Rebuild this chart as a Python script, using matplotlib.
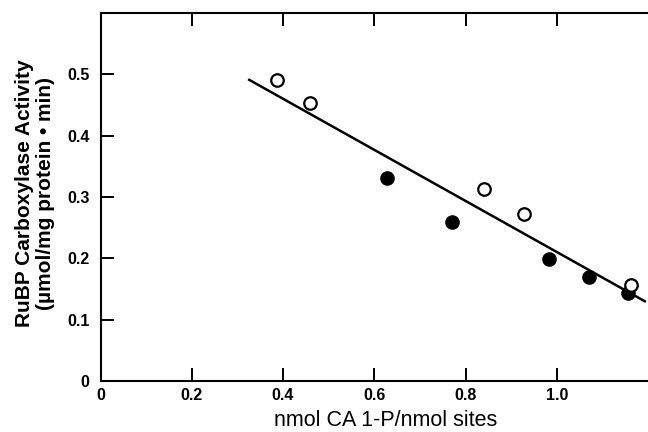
import matplotlib
matplotlib.use('Agg')
import matplotlib.pyplot as plt

plt.rcParams['font.family'] = ['Liberation Sans', 'DejaVu Sans']

# open circles
open_x = [0.386, 0.460, 0.841, 0.928, 1.162]
open_y = [0.490, 0.453, 0.313, 0.272, 0.157]
# filled circles
filled_x = [0.629, 0.771, 0.984, 1.070, 1.157]
filled_y = [0.331, 0.260, 0.199, 0.169, 0.143]
# regression line end points
fit_x = [0.326, 1.193]
fit_y = [0.491, 0.130]

xticks = [0, 0.2, 0.4, 0.6, 0.8, 1.0]
xlabels = ['0', '0.2', '0.4', '0.6', '0.8', '1.0']
yticks = [0, 0.1, 0.2, 0.3, 0.4, 0.5]
ylabels = ['0', '0.1', '0.2', '0.3', '0.4', '0.5']

fig = plt.figure(figsize=(6.48, 4.32), dpi=100)
ax = fig.add_axes([100.5 / 648, 51 / 432, 547.5 / 648, 368 / 432])

ax.plot(fit_x, fit_y, '-', color='black', lw=1.8, zorder=2)
ax.plot(filled_x, filled_y, 'o', color='black', ms=9.5, zorder=3)
ax.plot(open_x, open_y, 'o', mfc='white', mec='black', mew=1.6, ms=9, zorder=4)

ax.set_xlim(0, 1.2)
ax.set_ylim(0, 0.6)
ax.set_xticks(xticks)
ax.set_xticklabels(xlabels)
ax.set_yticks(yticks)
ax.set_yticklabels(ylabels)

ax.spines['right'].set_visible(False)
for s in ['left', 'top', 'bottom']:
    ax.spines[s].set_linewidth(1.5)

ax.tick_params(axis='x', direction='in', top=True, length=9.5, width=1.4,
               labelsize=11.5, pad=5)
ax.tick_params(axis='y', direction='in', length=9.5, width=1.4,
               labelsize=11.5, pad=8)
for lab in ax.get_xticklabels() + ax.get_yticklabels():
    lab.set_fontweight('bold')

ax.set_xlabel('nmol CA 1-P/nmol sites', fontsize=15.5)
ax.xaxis.set_label_coords(0.52, -0.08)
ax.set_ylabel('RuBP Carboxylase Activity\n(µmol/mg protein • min)',
              fontsize=15, fontweight='bold', linespacing=1.15)
ax.yaxis.set_label_coords(-0.083, 0.51)

fig.savefig('out.png', dpi=100)
